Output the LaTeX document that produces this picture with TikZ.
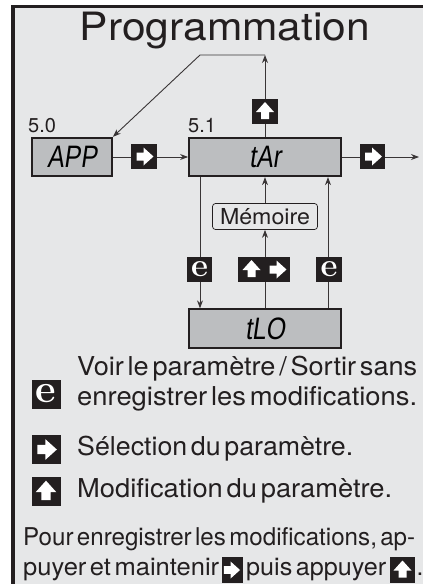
\documentclass[tikz,border=0pt]{standalone}
\usepackage{fontspec}
\usepackage{graphicx}
\usetikzlibrary{arrows.meta}
\newfontfamily\hv{TeX Gyre Heros}[WordSpace=0.5]
\newfontfamily\seg{Liberation Sans}[FakeSlant=0.18]
\definecolor{bg}{HTML}{E6E7E8}
\definecolor{boxg}{HTML}{BCBEC0}
\definecolor{ink}{HTML}{231F20}
\newcommand\segtext[1]{\scalebox{0.8}[1]{\seg\fontsize{31}{31}\selectfont #1}}
\newcommand\fitw[2]{\resizebox{#1}{\height}{#2}}
\newcommand\ekey[1]{\normalfont\bfseries\fontsize{#1}{#1}\selectfont e}
\begin{document}
\begin{tikzpicture}[x=1pt,y=-1pt,
  disp/.style={draw=ink,line width=1.8pt,fill=boxg,inner sep=0pt,minimum width=152pt,minimum height=38.5pt},
  conn/.style={draw=ink!90,line width=0.9pt},
  tip/.style={-{Stealth[length=8pt,width=6pt]}},
  keybox/.style={fill=ink,inner sep=0pt,minimum width=25.5pt,minimum height=25pt,text=white},
  lbl/.style={anchor=base west,inner sep=0pt,text=ink,font=\hv\fontsize{26}{26}\selectfont},
  plbl/.style={anchor=base west,inner sep=0pt,text=ink,font=\hv\fontsize{24.5}{24.5}\selectfont},
  uarr/.pic={\fill[white] (0,-9.5) -- (9,0.5) -- (4,0.5) -- (4,7.5) -- (-4,7.5) -- (-4,0.5) -- (-9,0.5) -- cycle;},
  rarr/.pic={\fill[white] (9.5,0) -- (-0.5,9) -- (-0.5,4) -- (-7.5,4) -- (-7.5,-4) -- (-0.5,-4) -- (-0.5,-9) -- cycle;}
]
\useasboundingbox (0,0) rectangle (423,584);
% frame
\fill[white] (0,0) rectangle (423,584);
\fill[bg] (13,6) rectangle (423,584);
\draw[ink,line width=4pt] (13,584) -- (13,5);
\draw[ink,line width=3pt] (11,6.5) -- (423,6.5);

% title
\node[anchor=base,inner sep=0pt,text=ink] (title) at (225,40)
  {\fitw{290pt}{\hv\fontsize{39}{39}\selectfont Programmation}};

% displays
\node[disp,minimum width=80pt] (app) at (72,157) {\segtext{APP}};
\node[disp] (tar) at (265,157) {\segtext{tAr}};
\node[disp] (tlo) at (265,328.5) {\segtext{tLO}};
\node[draw=ink,line width=0.7pt,rounded corners=3pt,inner sep=0pt,
      minimum width=105pt,minimum height=26pt,text=ink] (mem) at (265,216.5)
  {\fitw{90pt}{\hv\fontsize{22}{22}\selectfont Mémoire}};

\node[anchor=base west,inner sep=0pt,text=ink] (l50) at (28,132.5)
  {\hv\fontsize{20}{20}\selectfont 5.0};
\node[anchor=base west,inner sep=0pt,text=ink] (l51) at (188,132.5)
  {\hv\fontsize{20}{20}\selectfont 5.1};

% connector coordinates
\coordinate (top) at (265,55);
\coordinate (bend) at (200,55);
\coordinate (out) at (419,157);

% connectors
\draw[conn,tip] (app.east) -- (tar.west);
\draw[conn,tip] (tar.east) -- (out);
\draw[conn,tip] (tar.north) -- (top);
\draw[conn,tip] (top) -- (bend) -- (app.north east);
\draw[conn,tip] ([xshift=-65pt]tar.south) -- ([xshift=-65pt]tlo.north);
\draw[conn,tip] (tlo.north) -- (mem.south);
\draw[conn,tip] (mem.north) -- (tar.south);
\draw[conn,tip] ([xshift=63pt]tlo.north) -- ([xshift=63pt]tar.south);

% keys in the diagram
\node[keybox] (kr1) at (144,156.5) {}; \pic at (kr1) {rarr};
\node[keybox] (kr2) at (372.5,156.5) {}; \pic at (kr2) {rarr};
\node[keybox] (ku1) at (265,111.5) {}; \pic at (ku1) {uarr};
\node[keybox] (ke1) at (199.5,269.5) {\ekey{33}};
\node[keybox,minimum width=52pt] (kur) at (264,269.5) {};
\pic at ([xshift=-12.5pt]kur.center) {uarr};
\pic at ([xshift=13pt]kur.center) {rarr};
\node[keybox] (ke2) at (329,269.5) {\ekey{33}};

% legend
\node[keybox,minimum width=29pt,minimum height=29pt] (le) at (46,394) {\ekey{40}};
\node[keybox,minimum width=29pt,minimum height=29pt] (lr) at (46,449.5) {};
\pic[scale=1.14] at (lr) {rarr};
\node[keybox,minimum width=29pt,minimum height=29pt] (lu) at (46,491.5) {};
\pic[scale=1.14] at (lu) {uarr};

\node[lbl] (t1) at (77,375) {\fitw{340pt}{Voir le paramètre / Sortir sans}};
\node[lbl] (t2) at (77,405) {\fitw{340pt}{enregistrer les modifications.}};
\node[lbl] (t3) at (77,455) {\fitw{276pt}{Sélection du paramètre.}};
\node[lbl] (t4) at (77,497) {\fitw{315pt}{Modification du paramètre.}};

\node[plbl] (p1) at (23,545) {\fitw{392pt}{Pour enregistrer les modifications, ap-}};
\node[plbl] (p2) at (23,575) {\fitw{196pt}{puyer et maintenir}};
\node[keybox,minimum width=21pt,minimum height=26pt] (pk1) at (232,570) {};
\pic[scale=0.95] at (231,570) {rarr};
\node[plbl] (p3) at (246,575) {\fitw{140pt}{puis appuyer}};
\node[keybox,minimum width=25pt,minimum height=26pt] (pk2) at (402.5,570) {};
\pic at (pk2) {uarr};
\node[plbl] (p4) at (416.5,575) {.};
\end{tikzpicture}
\end{document}
